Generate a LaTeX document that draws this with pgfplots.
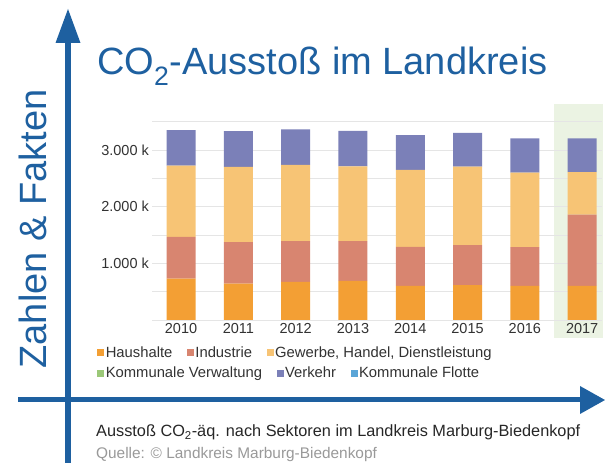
\documentclass[border=0pt]{standalone}
\usepackage{fontspec}
\setmainfont{Liberation Sans}
\usepackage{pgfplots}
\pgfplotsset{compat=1.18}
\usepackage{pgfplotstable}

\definecolor{hh}{RGB}{243,159,52}
\definecolor{ind}{RGB}{216,133,112}
\definecolor{gew}{RGB}{247,196,117}
\definecolor{verk}{RGB}{123,128,184}
\definecolor{kv}{RGB}{155,200,120}
\definecolor{kf}{RGB}{90,165,215}
\definecolor{zfblue}{RGB}{30,96,160}
\definecolor{greenbg}{RGB}{235,243,227}
\definecolor{ticktxt}{RGB}{50,50,50}

\pgfplotstableread{
x H I G V
0 731 737 1257 626
1 643 731 1328 631
2 673 719 1345 626
3 690 702 1321 626
4 602 690 1357 614
5 614 708 1386 596
6 602 685 1315 603
7 602 1258 748 597
}\data

\pgfplotsset{
  sqlegend/.style={
    legend image code/.code={\fill[##1] (0bp,-3.5bp) rectangle (7bp,3.5bp);},
    legend columns=-1,
    legend style={draw=none, fill=none, inner sep=0pt, anchor=west,
      font=\fontsize{14.8bp}{16bp}\selectfont, text=ticktxt,
      nodes={inner sep=1.5bp},
      /tikz/every even column/.append style={column sep=13bp}},
  },
}

\begin{document}
\begin{tikzpicture}[x=1bp,y=1bp]
\useasboundingbox (0,0) rectangle (605,463);
\fill[greenbg] (553.5,125) rectangle (603,359);

\begin{axis}[
  at={(152.4bp,143bp)}, anchor=south west,
  width=449.8bp, height=198.3bp, scale only axis,
  xmin=-0.5, xmax=7.35, ymin=0, ymax=3500,
  ybar stacked, bar width=29bp,
  axis line style={draw=none},
  xtick={0,...,7}, xticklabels={2010,2011,2012,2013,2014,2015,2016,2017},
  ytick={1000,2000,3000}, yticklabels={1.000 k,2.000 k,3.000 k},
  minor ytick={0,500,1500,2500,3500},
  ymajorgrids, yminorgrids,
  major grid style={draw=black!10, line width=0.6bp},
  minor grid style={draw=black!10, line width=0.6bp},
  major tick length=0pt, minor tick length=0pt,
  tick label style={font=\fontsize{14.5bp}{16bp}\selectfont, text=ticktxt},
  clip=false,
  sqlegend,
  legend style={at={(axis description cs:-0.123,-0.166)}},
]
\addplot[fill=hh, draw=none] table[x=x,y=H]{\data};
\addlegendentry{Haushalte}
\addplot[fill=ind, draw=none] table[x=x,y=I]{\data};
\addlegendentry{Industrie}
\addplot[fill=gew, draw=none] table[x=x,y=G]{\data};
\addlegendentry{Gewerbe, Handel, Dienstleistung}
\addplot[fill=verk, draw=none] table[x=x,y=V]{\data};
\end{axis}

\begin{axis}[
  at={(152.4bp,143bp)}, anchor=south west,
  width=449.8bp, height=198.3bp, scale only axis,
  xmin=-0.5, xmax=7.35, ymin=0, ymax=3500,
  hide axis,
  sqlegend,
  legend style={at={(axis description cs:-0.123,-0.2673)}},
]
\addlegendimage{fill=kv, draw=none}
\addlegendentry{Kommunale Verwaltung}
\addlegendimage{fill=verk, draw=none}
\addlegendentry{Verkehr}
\addlegendimage{fill=kf, draw=none}
\addlegendentry{Kommunale Flotte}
\end{axis}

% frame arrows
\draw[line width=5.5bp, zfblue] (68,0) -- (68,422);
\fill[zfblue] (68,454) -- (55.5,420) -- (80.5,420) -- cycle;
\draw[line width=5bp, zfblue] (18,63) -- (582,63);
\fill[zfblue] (605,63) -- (580,49) -- (580,77) -- cycle;

\node[anchor=base west, inner sep=0pt, text=zfblue, font=\fontsize{38bp}{40bp}\selectfont] at (97,388) {CO\textsubscript{2}-Ausstoß im Landkreis};
\node[rotate=90, anchor=base, inner sep=0pt, text=zfblue, font=\fontsize{38bp}{40bp}\selectfont] at (46,234) {Zahlen \& Fakten};
\node[anchor=base west, inner sep=0pt, text=black!85, font=\fontsize{16.3bp}{18bp}\selectfont] at (96,26) {Ausstoß CO\textsubscript{2}-äq. nach Sektoren im Landkreis Marburg-Biedenkopf};
\node[anchor=base west, inner sep=0pt, text=black!40, font=\fontsize{15.4bp}{17bp}\selectfont] at (96,4) {Quelle: © Landkreis Marburg-Biedenkopf};
\end{tikzpicture}
\end{document}
